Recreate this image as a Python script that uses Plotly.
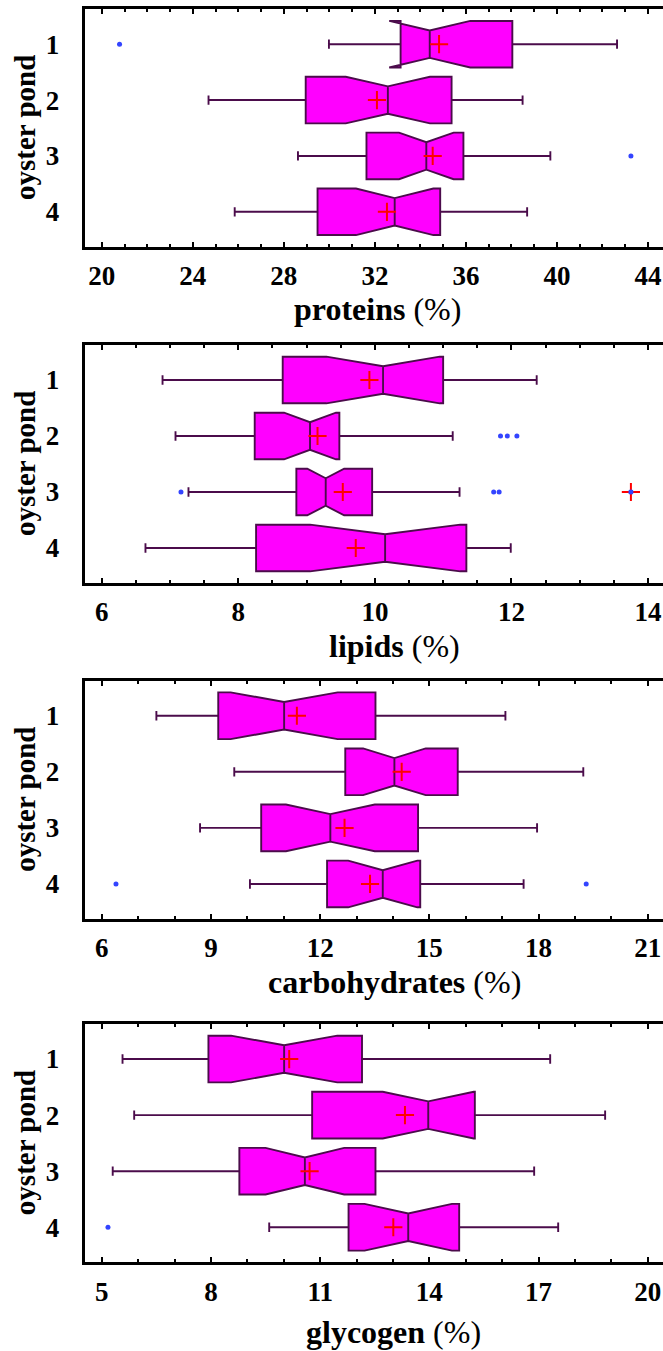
import plotly.graph_objects as go

# ---------------- data ----------------
PONDS = ["1", "2", "3", "4"]

# proteins (%)
PROT_LOW = [29.98, 24.69, 28.62, 25.84]
PROT_Q1 = [33.13, 28.96, 31.63, 29.48]
PROT_MED = [34.41, 32.57, 34.26, 32.87]
PROT_Q3 = [38.04, 35.37, 35.89, 34.87]
PROT_HIGH = [42.64, 38.49, 39.71, 38.69]
PROT_NOTCH = [1.78, 1.85, 1.2, 1.7]
PROT_MEAN = [34.82, 32.09, 34.54, 32.53]
PROT_OUT_X = [20.78, 43.25]
PROT_OUT_POND = ["1", "3"]

# lipids (%)
LIP_LOW = [6.89, 7.08, 7.27, 6.64]
LIP_Q1 = [8.65, 8.24, 8.85, 8.26]
LIP_MED = [10.12, 9.05, 9.28, 10.15]
LIP_Q3 = [11.0, 9.48, 9.96, 11.34]
LIP_HIGH = [12.37, 11.14, 11.24, 11.99]
LIP_NOTCH = [0.83, 0.38, 0.27, 1.1]
LIP_MEAN = [9.92, 9.16, 9.53, 9.72]
LIP_OUT_X = [11.84, 11.94, 12.08, 7.16, 11.74, 11.82, 13.75]
LIP_OUT_POND = ["2", "2", "2", "3", "3", "3", "3"]
LIP_EXTREME_X = [13.75]
LIP_EXTREME_POND = ["3"]

# carbohydrates (%)
CARB_LOW = [7.50, 9.64, 8.70, 10.07]
CARB_Q1 = [9.20, 12.69, 10.38, 12.19]
CARB_MED = [11.01, 14.04, 12.28, 13.72]
CARB_Q3 = [13.52, 15.78, 14.69, 14.75]
CARB_HIGH = [17.09, 19.23, 17.96, 17.59]
CARB_NOTCH = [1.47, 0.86, 1.22, 0.95]
CARB_MEAN = [11.36, 14.24, 12.67, 13.37]
CARB_OUT_X = [6.39, 19.31]
CARB_OUT_POND = ["4", "4"]

# glycogen (%)
GLY_LOW = [5.57, 5.89, 5.30, 9.60]
GLY_Q1 = [7.93, 10.78, 8.78, 11.78]
GLY_MED = [10.01, 13.97, 10.58, 13.42]
GLY_Q3 = [12.15, 15.25, 12.52, 14.82]
GLY_HIGH = [17.32, 18.83, 16.88, 17.54]
GLY_NOTCH = [1.46, 1.25, 1.08, 1.2]
GLY_MEAN = [10.15, 13.33, 10.71, 13.01]
GLY_OUT_X = [5.17]
GLY_OUT_POND = ["4"]

X_TITLES = ["proteins", "lipids", "carbohydrates", "glycogen"]
X_RANGES = [[19.24, 44.66], [5.747, 14.22], [5.525, 21.42], [4.525, 20.42]]
X_TICK0 = [20, 6, 6, 5]
X_DTICK = [4, 2, 3, 3]
X_MINOR = [1, 0.5, 1, 1]

# ---------------- layout geometry (pixels) ----------------
W, H = 663, 1351
PLOT_LEFT = 84.5
PANEL_TOP = [9.3, 345.0, 680.7, 1024.0]
PANEL_BOT = [246.7, 583.0, 919.0, 1262.3]
TITLE_CX = [377, 394, 394, 393]
TITLE_CY = [309, 646, 982, 1332]

FILL = "#ff00ff"
EDGE = "#4b0c4b"
FONT = "Liberation Serif"

panels = [
    (PROT_LOW, PROT_Q1, PROT_MED, PROT_Q3, PROT_HIGH, PROT_NOTCH, PROT_MEAN, PROT_OUT_X, PROT_OUT_POND),
    (LIP_LOW, LIP_Q1, LIP_MED, LIP_Q3, LIP_HIGH, LIP_NOTCH, LIP_MEAN, LIP_OUT_X, LIP_OUT_POND),
    (CARB_LOW, CARB_Q1, CARB_MED, CARB_Q3, CARB_HIGH, CARB_NOTCH, CARB_MEAN, CARB_OUT_X, CARB_OUT_POND),
    (GLY_LOW, GLY_Q1, GLY_MED, GLY_Q3, GLY_HIGH, GLY_NOTCH, GLY_MEAN, GLY_OUT_X, GLY_OUT_POND),
]

fig = go.Figure()
layout = dict(
    width=W, height=H,
    margin=dict(l=0, r=0, t=0, b=0),
    paper_bgcolor="white", plot_bgcolor="white",
    showlegend=False,
    boxgap=0.167,
    boxgroupgap=0,
    annotations=[],
)

tickfont = dict(family=FONT, size=27, color="black", weight="bold")

for i, (lo, q1, med, q3, hi, notch, mean, ox, op) in enumerate(panels):
    n = i + 1
    xa = "x" if n == 1 else f"x{n}"
    ya = "y" if n == 1 else f"y{n}"
    fig.add_trace(go.Box(
        y=PONDS, q1=q1, median=med, q3=q3, lowerfence=lo, upperfence=hi,
        notchspan=notch, notched=True, notchwidth=0.205, whiskerwidth=0.2,
        orientation="h", boxpoints=False,
        fillcolor=FILL, line=dict(color=EDGE, width=1.9),
        xaxis=xa, yaxis=ya, hoverinfo="skip",
    ))
    fig.add_trace(go.Scatter(
        x=ox, y=op, mode="markers",
        marker=dict(symbol="circle", size=5, color="#3344ff"),
        xaxis=xa, yaxis=ya, hoverinfo="skip",
    ))
    fig.add_trace(go.Scatter(
        x=mean, y=PONDS, mode="markers",
        marker=dict(symbol="cross-thin", size=13, line=dict(color="#ff0000", width=2)),
        xaxis=xa, yaxis=ya, hoverinfo="skip",
    ))
    if n == 2:
        fig.add_trace(go.Scatter(
            x=LIP_EXTREME_X, y=LIP_EXTREME_POND, mode="markers",
            marker=dict(symbol="cross-thin", size=13, line=dict(color="#ff0000", width=2)),
            xaxis=xa, yaxis=ya, hoverinfo="skip",
        ))
        fig.add_trace(go.Scatter(
            x=LIP_EXTREME_X, y=LIP_EXTREME_POND, mode="markers",
            marker=dict(symbol="circle", size=5, color="#3344ff"),
            xaxis=xa, yaxis=ya, hoverinfo="skip",
        ))

    y0 = 1 - PANEL_BOT[i] / H
    y1 = 1 - PANEL_TOP[i] / H
    layout["xaxis" if n == 1 else f"xaxis{n}"] = dict(
        domain=[PLOT_LEFT / W, 1], anchor=ya, range=X_RANGES[i],
        tick0=X_TICK0[i], dtick=X_DTICK[i],
        ticks="inside", ticklen=5, tickwidth=2, tickcolor="black",
        minor=dict(ticks="inside", dtick=X_MINOR[i], tick0=X_TICK0[i],
                   ticklen=3, tickwidth=1.5, tickcolor="black", showgrid=False),
        showline=True, linewidth=2.8, linecolor="black", mirror="ticks",
        showgrid=False, zeroline=False, tickfont=tickfont,
        ticklabelstandoff=3, automargin=False,
    )
    layout["yaxis" if n == 1 else f"yaxis{n}"] = dict(
        domain=[y0, y1], anchor=xa, type="category",
        categoryorder="array", categoryarray=PONDS,
        range=[3.625, -0.625],
        showline=True, linewidth=2.8, linecolor="black", mirror=False,
        ticks="", showgrid=False, zeroline=False, tickfont=tickfont,
        ticklabelstandoff=17, automargin=False,
    )
    layout["annotations"].append(dict(
        text=f"<b>{X_TITLES[i]}</b> (%)", xref="paper", yref="paper",
        x=TITLE_CX[i] / W, y=1 - TITLE_CY[i] / H, xanchor="center", yanchor="middle",
        showarrow=False, font=dict(family=FONT, size=32, color="black"),
    ))
    layout["annotations"].append(dict(
        text="<b>oyster pond</b>", xref="paper", yref="paper",
        x=25 / W, y=(y0 + y1) / 2, xanchor="center", yanchor="middle",
        textangle=-90, showarrow=False, font=dict(family=FONT, size=29, color="black"),
    ))

fig.update_layout(**layout)
fig.write_html("out.html")
